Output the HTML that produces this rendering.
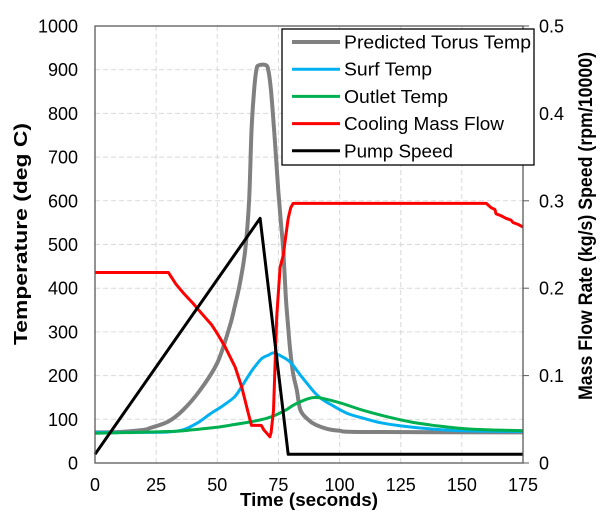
<!DOCTYPE html>
<html><head><meta charset="utf-8"><style>
body{margin:0;background:#fff}
svg{display:block;font-family:"Liberation Sans",Arial,sans-serif}
</style></head><body>
<svg id="chart" width="600" height="517" viewBox="0 0 600 517">
<g id="grid"></g>
<g id="series"></g>
<g id="axes"></g>
<text x="0" y="0" transform="translate(27,234) rotate(-90)" text-anchor="middle" font-size="18" font-weight="bold" textLength="222" lengthAdjust="spacingAndGlyphs">Temperature (deg C)</text>
<text x="0" y="0" transform="translate(592,226) rotate(-90)" text-anchor="middle" font-size="19" font-weight="bold" textLength="348" lengthAdjust="spacingAndGlyphs">Mass Flow Rate (kg/s) Speed (rpm/10000)</text>
<text x="309" y="506" text-anchor="middle" font-size="18" font-weight="bold" textLength="138" lengthAdjust="spacingAndGlyphs">Time (seconds)</text>
<g id="legend"></g>
</svg>
<script>
const xTicks=[0,25,50,75,100,125,150,175];
const yTicks=[0,100,200,300,400,500,600,700,800,900,1000];
const y2Ticks=[0,0.1,0.2,0.3,0.4,0.5];
const torusT=[0,10,20,22.5,30,36,43,50,55,57,59.3,61.4,63,64,65,66,67,70,71,72,73,74,75,76,77,78,79,79.8,81,82.5,84,87,90,95,100,110,175];
const torusV=[70,71,76,80,95,121,167,229,311,355,412,487,600,760,850,900,910,910,895,850,780,700,620,550,487,380,310,258,205,167,121,100,88,78,74,71,70];
const surfT=[0,20,30,36,42,47,52,57,60,63.5,66,68.4,71,73,76,79.8,84,87,90,93,97,103,110,117,125,137,150,175];
const surfV=[70,70,71,76,92,112,130,151,175,206,225,240,247,252,245,231,201,180,160,145,132,114,102,92,85,78,74,72];
const outT=[0,30,40,50,57,63.5,70,74,78,81,84,87,90,93,100,110,120,130,140,150,160,175];
const outV=[68,72,76,82,88,94,102,110,121,132,140,147,150,148,138,120,105,93,85,79,76,74];
const flowT=[0,30,33,36,40,43,47.7,50,53.2,57.3,60,62.7,64,68,69,71.5,72,73,74.3,75.7,77,78,79,80,81,160,162,163.5,164,166,168,170,171,173,175];
const flowV=[.218,.218,.205,.195,.183,.173,.158,.148,.133,.11,.087,.057,.043,.043,.038,.03,.035,.06,.167,.224,.238,.26,.28,.292,.297,.297,.292,.29,.285,.283,.28,.278,.275,.273,.27];
const pumpT=[0,67.5,79,175];
const pumpV=[0.01,0.28,0.01,0.01];
const X0=95,X1=523,Y0=463,Y1=26;
const sx=t=>X0+(t/175)*(X1-X0);
const sy=v=>Y0-(v/1000)*(Y0-Y1);
const sy2=v=>Y0-(v/0.5)*(Y0-Y1);
const NS="http://www.w3.org/2000/svg";
function mk(tag,attrs,parent){const e=document.createElementNS(NS,tag);for(const k in attrs)e.setAttribute(k,attrs[k]);parent.appendChild(e);return e;}
const grid=document.getElementById('grid'),axes=document.getElementById('axes'),ser=document.getElementById('series'),leg=document.getElementById('legend');
yTicks.forEach(v=>{const y=sy(v);
 if(v>0&&v<1000){const l=mk('line',{x1:X0,x2:X1,y1:y,y2:y,stroke:'#d9d9d9','stroke-width':1,'stroke-dasharray':'5,3'},grid);
 
 }
 const t=mk('text',{x:78,y:y+6.5,'text-anchor':'end','font-size':18},axes);t.textContent=v;
 
 });
xTicks.forEach(v=>{const x=sx(v);
 if(v>0&&v<175){const l=mk('line',{x1:x,x2:x,y1:Y1,y2:Y0,stroke:'#d9d9d9','stroke-width':1,'stroke-dasharray':'5,3'},grid);
 
 }
 const t=mk('text',{x:x,y:491,'text-anchor':'middle','font-size':18},axes);t.textContent=v;
 
 });
y2Ticks.forEach(v=>{const y=sy2(v);
 mk('line',{x1:X1,x2:X1+6,y1:y,y2:y,stroke:'#595959','stroke-width':1},axes);
 const t=mk('text',{x:539,y:y+6.5,'font-size':18},axes);t.textContent=v;
 
 });
const frame=mk('rect',{x:X0,y:Y1,width:X1-X0,height:Y0-Y1,fill:'none',stroke:'#595959','stroke-width':1.3},axes);


function pathD(T,V,scale,smooth){
 const P=T.map((t,i)=>[sx(t),scale(V[i])]);
 if(!smooth)return P.map((p,i)=>(i?'L':'M')+p[0].toFixed(1)+','+p[1].toFixed(1)).join('');
 let d='M'+P[0][0].toFixed(1)+','+P[0][1].toFixed(1);
 for(let i=0;i<P.length-1;i++){
  const p0=P[i-1]||P[i],p1=P[i],p2=P[i+1],p3=P[i+2]||P[i+1];
  const c1=[p1[0]+(p2[0]-p0[0])/6,p1[1]+(p2[1]-p0[1])/6];
  const c2=[p2[0]-(p3[0]-p1[0])/6,p2[1]-(p3[1]-p1[1])/6];
  d+='C'+c1[0].toFixed(1)+','+c1[1].toFixed(1)+' '+c2[0].toFixed(1)+','+c2[1].toFixed(1)+' '+p2[0].toFixed(1)+','+p2[1].toFixed(1);
 }
 return d;}
function line(T,V,scale,color,w,name,smooth){
 const p=mk('path',{d:pathD(T,V,scale,smooth),fill:'none',stroke:color,'stroke-width':w,'stroke-linejoin':'round'},ser);
 
 }
line(torusT,torusV,sy,'#808080',4,'predicted-torus-temp-line',true);
line(surfT,surfV,sy,'#00b0f0',3,'surf-temp-line',true);
line(outT,outV,sy,'#00b050',3,'outlet-temp-line',true);
line(flowT,flowV,sy2,'#ff0000',3,'cooling-mass-flow-line',false);
line(pumpT,pumpV,sy2,'#000000',3,'pump-speed-line',false);
const lb=mk('rect',{x:282,y:29,width:252,height:136,fill:'#fff',stroke:'#000','stroke-width':1.3},leg);


const entries=[['Predicted Torus Temp','#808080',4,187],['Surf Temp','#00b0f0',3,88],['Outlet Temp','#00b050',3,104],['Cooling Mass Flow','#ff0000',3,160],['Pump Speed','#000000',3,109]];
entries.forEach((e,i)=>{const y=42+i*27.2;
 mk('line',{x1:292,x2:340,y1:y,y2:y,stroke:e[1],'stroke-width':e[2]},leg);
 const t=mk('text',{x:344,y:y+6.5,'font-size':18,textLength:e[3],lengthAdjust:'spacingAndGlyphs'},leg);t.textContent=e[0];
 
 });
</script>
</body></html>
